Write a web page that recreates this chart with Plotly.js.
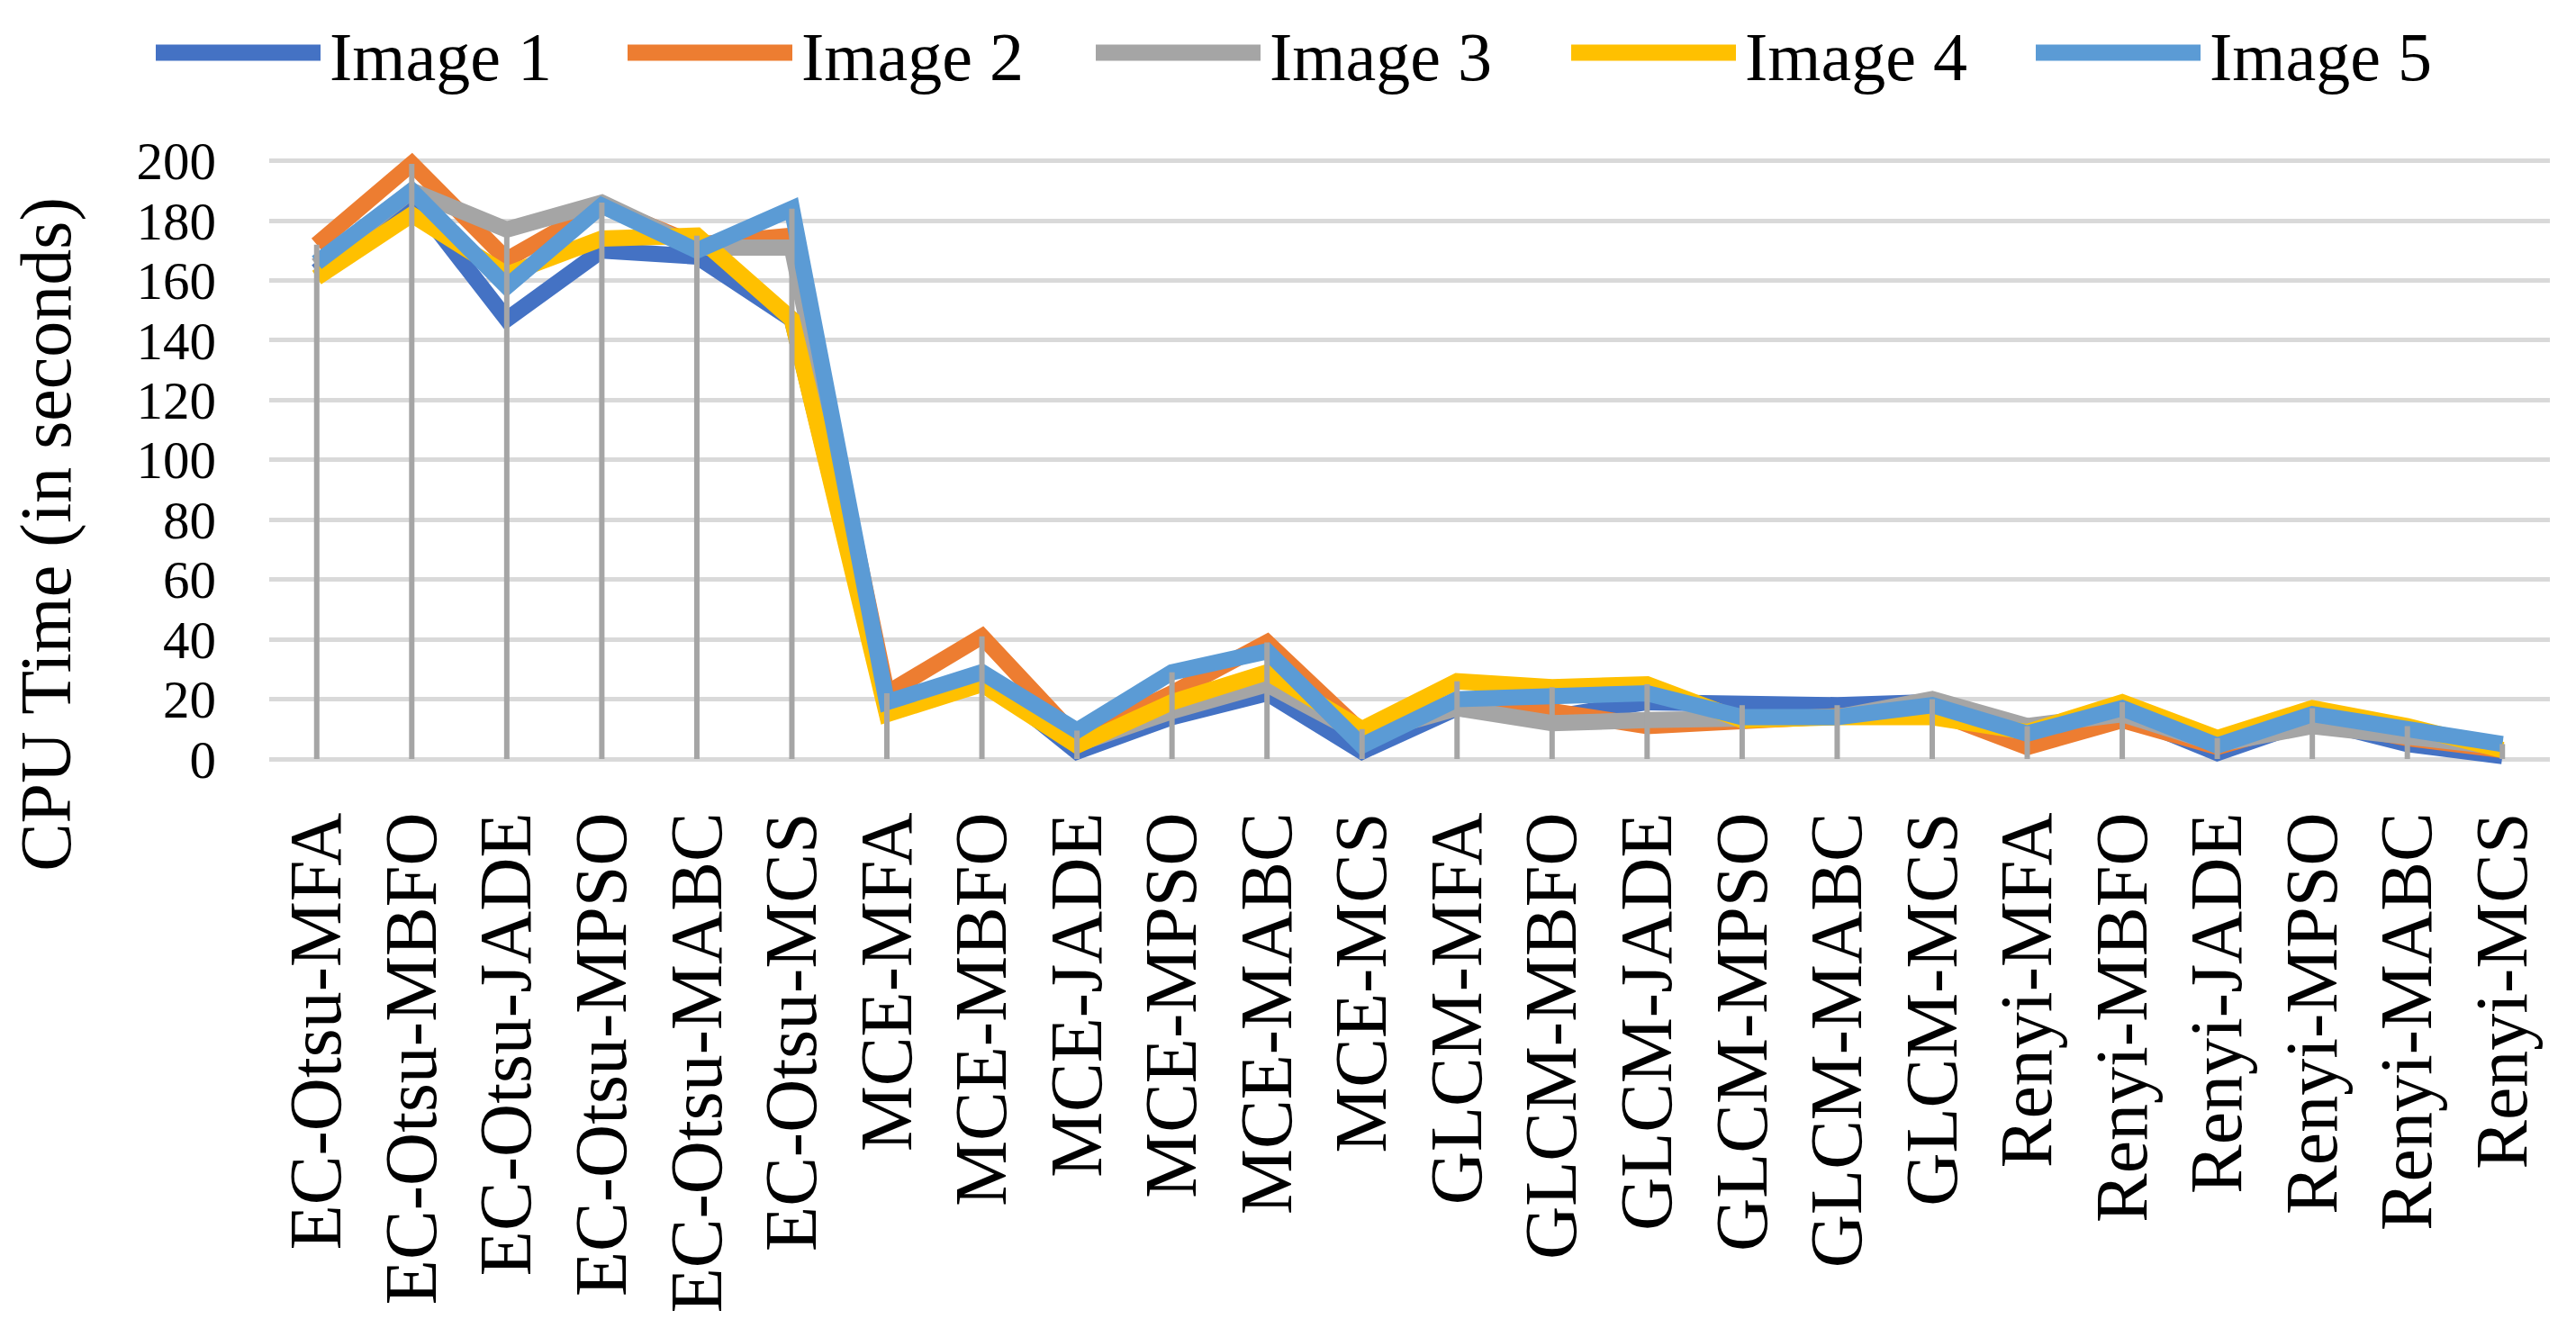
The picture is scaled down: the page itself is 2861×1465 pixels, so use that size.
<!DOCTYPE html>
<html>
<head>
<meta charset="utf-8">
<script src="https://cdn.plot.ly/plotly-3.0.1.min.js"></script>
<style>html,body{margin:0;padding:0;background:#fff;}#chart{width:2861px;height:1465px;}</style>
</head>
<body>
<div id="chart"></div>
<script>
// ---------------- DATA ----------------
const categories = ["EC-Otsu-MFA","EC-Otsu-MBFO","EC-Otsu-JADE","EC-Otsu-MPSO","EC-Otsu-MABC","EC-Otsu-MCS",
  "MCE-MFA","MCE-MBFO","MCE-JADE","MCE-MPSO","MCE-MABC","MCE-MCS",
  "GLCM-MFA","GLCM-MBFO","GLCM-JADE","GLCM-MPSO","GLCM-MABC","GLCM-MCS",
  "Renyi-MFA","Renyi-MBFO","Renyi-JADE","Renyi-MPSO","Renyi-MABC","Renyi-MCS"];
const seriesNames = ["Image 1","Image 2","Image 3","Image 4","Image 5"];
const image1 = [163,188,147,170,168,147, 17,28,2.5,14,22,2.5, 17,14,19,18,18,19, 7,15,2,13,5,1];
const image2 = [172,199,167,185,172,175, 22,41,7,22,39,9, 19,16,11,13,14,16, 4,13,4,13,7,3];
const image3 = [165,190,177,186,171,171, 16,27,5,16,25,8, 17,12,13,14,14,20, 11,15,5,11,8,4];
const image4 = [161,182,162,174,175,147, 15,25,4.5,19,29,10, 26,24,25,13,14,14, 9,19,7,17,11,3];
const image5 = [166,190,158,185,170,184, 19,29,9.5,29,36,4.5, 20,21,22,14,14,18, 8.5,17,4.5,15,9.5,5];
const yTicks = [0,20,40,60,80,100,120,140,160,180,200];
const yTitle = "CPU Time (in seconds)";

// ---------------- STYLE ----------------
const colors = ["#4472C4","#ED7D31","#A5A5A5","#FFC000","#5B9BD5"];
const FONT = "Liberation Serif, Times New Roman, serif";
const W = 2861, H = 1465;
const PL = 299, PR = 2832, PT = 162.4, PB = 853;
const px2x = px => (px - PL) / (PR - PL);
const py2y = py => (PB - py) / (PB - PT);

const allSeries = [image1, image2, image3, image4, image5];
const traces = allSeries.map((vals, i) => ({
  type: "scatter", mode: "lines", name: seriesNames[i],
  x: categories, y: vals,
  line: {color: colors[i], width: 18},
  hoverinfo: "skip", showlegend: false
}));

// drop lines (from the highest point of each category down to the axis)
const dropTop = categories.map((c, k) => Math.max(...allSeries.map(s => s[k])));
traces.push({
  type: "scatter", mode: "markers", x: categories, y: dropTop,
  marker: {size: 1, opacity: 0},
  error_y: {type: "data", symmetric: false, array: dropTop.map(() => 0), arrayminus: dropTop,
            width: 0, thickness: 6, color: "#A5A5A5"},
  hoverinfo: "skip", showlegend: false
});

// custom legend
const legLineStart = [173, 697, 1217, 1745, 2261];
const legLen = 183, legY = 59;
const shapes = [], annotations = [];
seriesNames.forEach((n, i) => {
  shapes.push({type: "line", xref: "paper", yref: "paper",
    x0: px2x(legLineStart[i]), x1: px2x(legLineStart[i] + legLen), y0: py2y(legY), y1: py2y(legY),
    line: {color: colors[i], width: 18}});
  annotations.push({xref: "paper", yref: "paper", x: px2x(legLineStart[i] + legLen + 8), y: py2y(legY + 4),
    xanchor: "left", yanchor: "middle", showarrow: false, text: n,
    font: {family: FONT, size: 76, color: "#000"}});
});
annotations.push({xref: "paper", yref: "paper", x: px2x(52), y: py2y(594), textangle: -90,
  xanchor: "center", yanchor: "middle", showarrow: false, text: yTitle, borderpad: 0,
  font: {family: FONT, size: 80, color: "#000"}});

const layout = {
  width: W, height: H,
  margin: {l: PL, r: W - PR, t: PT, b: H - PB, pad: 0},
  paper_bgcolor: "#fff", plot_bgcolor: "#fff",
  showlegend: false,
  font: {family: FONT, color: "#000"},
  xaxis: {type: "category", range: [-0.5, categories.length - 0.5], showgrid: false, zeroline: false,
    showline: false, ticks: "", tickangle: -90, ticklabelstandoff: 32,
    tickfont: {family: FONT, size: 82, color: "#000"}, fixedrange: true},
  yaxis: {range: [-3, 205], tickmode: "array", tickvals: yTicks, ticktext: yTicks.map(String),
    showgrid: true, gridcolor: "#D9D9D9", gridwidth: 5, zeroline: false, showline: false, ticks: "",
    ticklabelstandoff: 58, tickfont: {family: FONT, size: 59, color: "#000"}, fixedrange: true},
  shapes: shapes, annotations: annotations
};

Plotly.newPlot("chart", traces, layout, {displayModeBar: false, staticPlot: true});
</script>
</body>
</html>
